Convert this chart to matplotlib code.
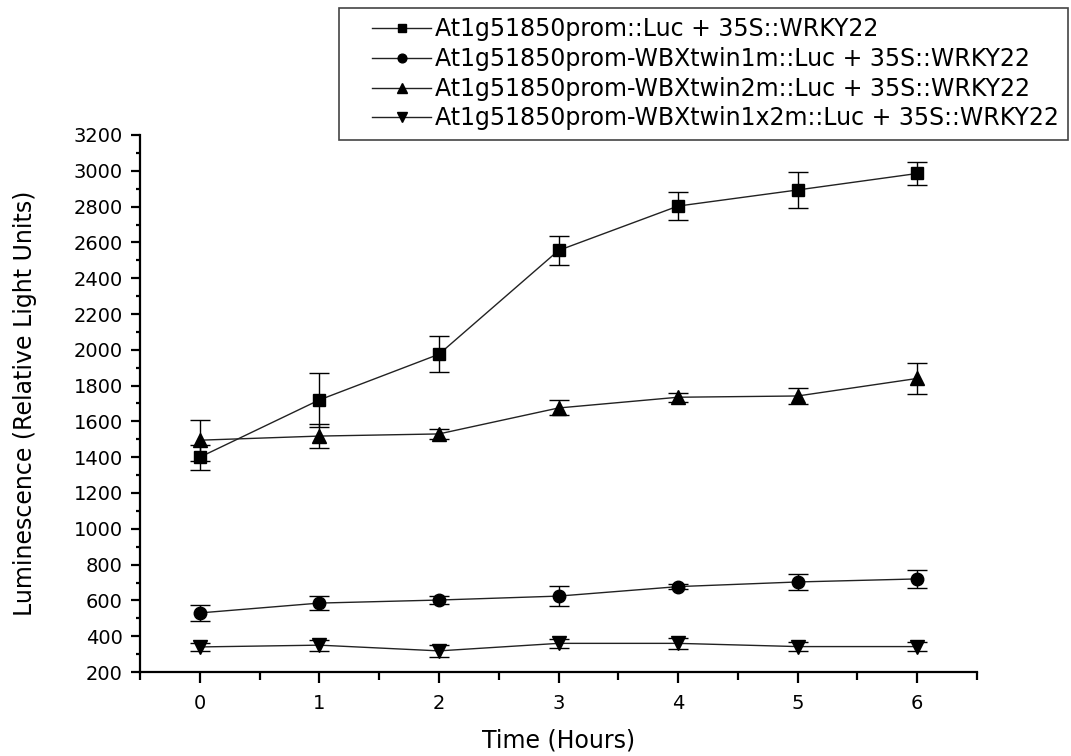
import numpy as np
import matplotlib
matplotlib.use("Agg")
import matplotlib.pyplot as plt
from matplotlib.legend_handler import HandlerLine2D
from matplotlib.ticker import MultipleLocator

# time points (hours)
hours = [0, 1, 2, 3, 4, 5, 6]

# luminescence means and error bars
wt_mean = [1400, 1720, 1975, 2555, 2803, 2893, 2985]
wt_err = [70, 150, 100, 82, 80, 100, 65]

m1_mean = [530, 585, 602, 624, 677, 703, 720]
m1_err = [47, 40, 22, 55, 15, 45, 50]

m2_mean = [1495, 1518, 1530, 1675, 1735, 1742, 1840]
m2_err = [115, 68, 30, 42, 25, 45, 85]

m12_mean = [340, 350, 318, 360, 360, 342, 342]
m12_err = [20, 30, 35, 25, 30, 25, 25]

labels = [
    "At1g51850prom::Luc + 35S::WRKY22",
    "At1g51850prom-WBXtwin1m::Luc + 35S::WRKY22",
    "At1g51850prom-WBXtwin2m::Luc + 35S::WRKY22",
    "At1g51850prom-WBXtwin1x2m::Luc + 35S::WRKY22",
]

plt.rcParams['font.family'] = ['DejaVu Sans']

fig = plt.figure(figsize=(10.71, 7.56), dpi=100)
ax = fig.add_axes([140 / 1071, 84 / 756, 837 / 1071, 537 / 756])

series = [
    (wt_mean, wt_err, 's', 8.4),
    (m1_mean, m1_err, 'o', 9.0),
    (m2_mean, m2_err, '^', 10.3),
    (m12_mean, m12_err, 'v', 10.0),
]

handles = []
for (mean, err, mk, ms), lab in zip(series, labels):
    ax.errorbar(hours, mean, yerr=err, fmt='none', ecolor='black',
                elinewidth=1.0, capsize=7.5, capthick=1.0, zorder=2)
    ln, = ax.plot(hours, mean, color='#222222', linewidth=1.0,
                  marker=mk, markersize=ms, markerfacecolor='black',
                  markeredgecolor='black', label=lab, zorder=3)
    handles.append(ln)

ax.set_xlim(-0.5, 6.5)
ax.set_ylim(200, 3200)
ax.xaxis.set_major_locator(MultipleLocator(1))
ax.xaxis.set_minor_locator(MultipleLocator(0.5))
ax.yaxis.set_major_locator(MultipleLocator(200))
ax.yaxis.set_minor_locator(MultipleLocator(100))

for side in ['top', 'right']:
    ax.spines[side].set_visible(False)
for side in ['left', 'bottom']:
    ax.spines[side].set_linewidth(1.6)

ax.tick_params(axis='x', which='major', direction='out', length=8, width=1.6,
               pad=8, labelsize=14)
ax.tick_params(axis='x', which='minor', direction='out', length=5.5, width=1.6)
ax.tick_params(axis='y', which='major', direction='out', length=6.5, width=1.6,
               pad=6, labelsize=14)
ax.tick_params(axis='y', which='minor', direction='out', length=3, width=1.6)

ax.set_xlabel("Time (Hours)", fontsize=17, labelpad=11)
ax.set_ylabel("Luminescence (Relative Light Units)", fontsize=17, labelpad=26)

hmap = {h: HandlerLine2D(numpoints=1, xpad=1.0) for h in handles}
leg = fig.legend(handles=handles, labels=labels, loc='upper right',
                 bbox_to_anchor=(1068 / 1071, 1 - 8 / 756),
                 bbox_transform=fig.transFigure, borderaxespad=0,
                 fontsize=17, handlelength=3.5, handletextpad=0.15,
                 labelspacing=0.24, borderpad=0.4, markerscale=0.7,
                 fancybox=False, framealpha=1, edgecolor='#444444',
                 handler_map=hmap)
leg.get_frame().set_linewidth(1.2)

fig.savefig("out.png", dpi=100)
